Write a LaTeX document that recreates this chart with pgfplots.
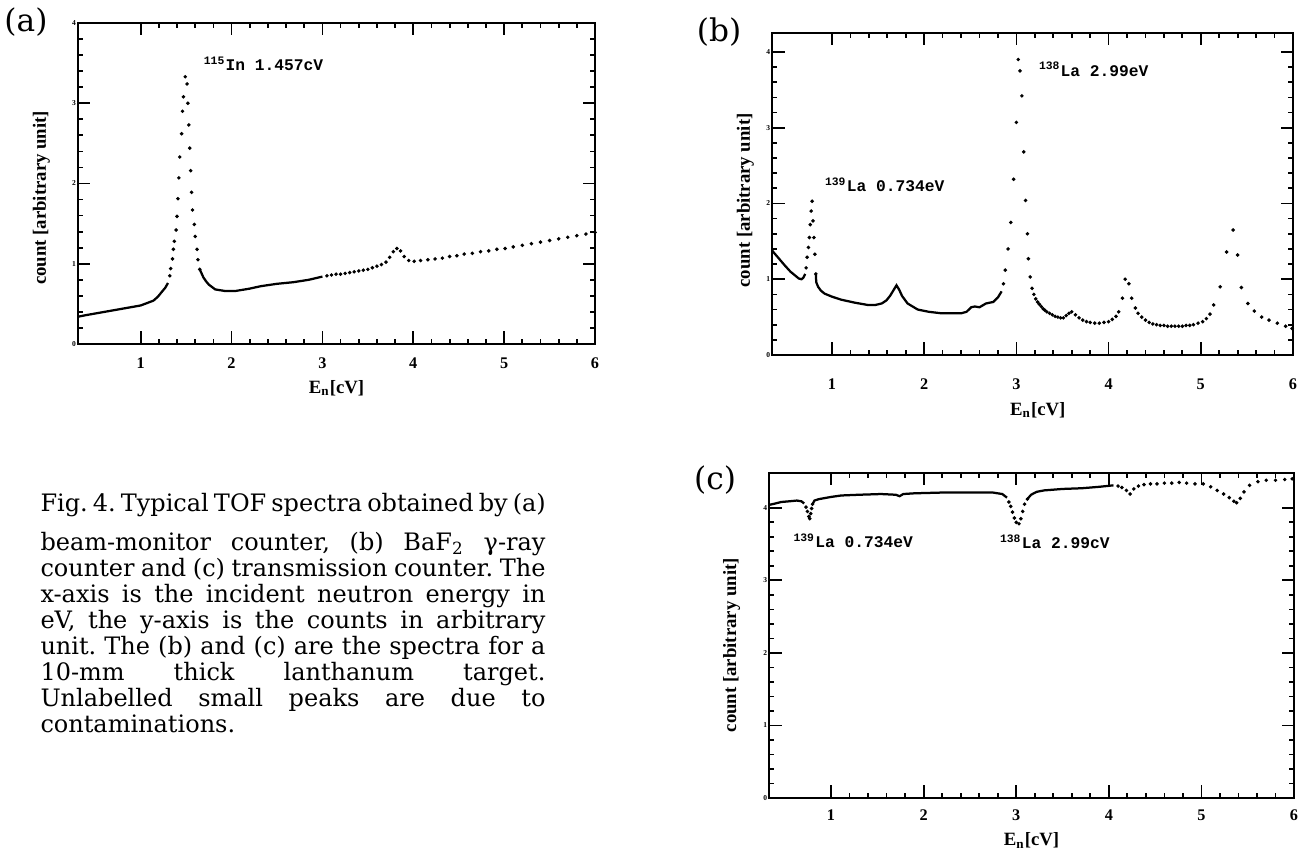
\documentclass[border=0pt]{standalone}
\usepackage{fontspec}
\setmainfont{Liberation Serif}
\newfontfamily\capfont{DejaVu Serif}
\newfontfamily\annfont{Liberation Mono}
\usepackage{pgfplots}
\pgfplotsset{compat=1.18}
\frenchspacing

% common look of the three scanned panels
\pgfplotsset{
  spec/.style={
    scale only axis,
    anchor=south west,
    axis line style={line width=0.8pt},
    tick style={line width=0.7pt, black},
    major tick length=5pt,
    minor tick length=2pt,
    tick align=inside,
    xtick={1,2,3,4,5,6},
    ytick={0,1,2,3,4},
    minor x tick num=4,
    minor y tick num=4,
    xmax=6, ymin=0,
    /pgf/number format/assume math mode=true,
    xticklabel style={font=\fontsize{6.5}{7}\selectfont\bfseries},
    yticklabel style={font=\fontsize{3}{3}\selectfont\bfseries, inner sep=0.6pt},
    xlabel={E\textsubscript{n}[cV]},
    ylabel={count [arbitrary unit]},
    label style={font=\fontsize{7.5}{8}\selectfont\bfseries},
    xlabel style={anchor=center},
    ylabel style={anchor=center},
  },
  curve/.style={black, line width=0.9pt, no marks},
  pts/.style={black, only marks, mark=*, mark size=0.5pt},
}

\begin{document}
\begin{tikzpicture}
\path[use as bounding box] (0,0) rectangle (519.2pt,339.6pt);

% ---------------- (a) beam monitor
\begin{axis}[spec, at={(31.2pt,202pt)}, width=206.8pt, height=128.4pt,
  xmin=0.31, ymax=4,
  xticklabel style={yshift=-2pt},
  xlabel style={at={(axis description cs:0.5,-0.137)}},
  ylabel style={at={(axis description cs:-0.0706,0.455)}}]
\addplot[curve] coordinates {(0.31,0.34) (0.40,0.36) (0.50,0.38) (0.60,0.40) (0.70,0.42) (0.80,0.44) (0.90,0.46) (1.00,0.48) (1.07,0.51) (1.14,0.54) (1.19,0.59) (1.24,0.66) (1.27,0.70) (1.30,0.76)};
\addplot[pts] coordinates {(1.32,0.85) (1.33,0.94) (1.35,1.06) (1.36,1.18) (1.37,1.28) (1.39,1.42) (1.40,1.59) (1.41,1.81) (1.42,2.07) (1.43,2.33) (1.45,2.62) (1.46,2.90) (1.47,3.08) (1.49,3.33) (1.51,3.24) (1.52,3.00) (1.53,2.73) (1.54,2.44) (1.55,2.16) (1.56,1.89) (1.57,1.67) (1.59,1.49) (1.60,1.34) (1.62,1.18) (1.63,1.05) (1.65,0.93)};
\addplot[curve] coordinates {(1.65,0.93) (1.69,0.83) (1.72,0.78) (1.75,0.74) (1.82,0.68) (1.93,0.66) (2.04,0.66) (2.20,0.69) (2.32,0.72) (2.50,0.75) (2.68,0.77) (2.85,0.80) (3.00,0.84)};
\addplot[pts] coordinates {(3.05,0.85) (3.10,0.86) (3.15,0.87) (3.20,0.87) (3.25,0.88) (3.30,0.89) (3.35,0.90) (3.40,0.91) (3.45,0.92) (3.50,0.93) (3.55,0.95) (3.60,0.97) (3.65,0.99) (3.70,1.02) (3.74,1.08) (3.78,1.15) (3.82,1.19) (3.86,1.16) (3.90,1.09) (3.95,1.04) (4.01,1.03) (4.08,1.04) (4.16,1.05) (4.24,1.06) (4.32,1.07) (4.40,1.09) (4.48,1.10) (4.56,1.12) (4.65,1.13) (4.74,1.15) (4.83,1.16) (4.92,1.18) (5.01,1.19) (5.10,1.21) (5.20,1.23) (5.30,1.25) (5.40,1.27) (5.50,1.29) (5.60,1.31) (5.70,1.33) (5.80,1.35) (5.90,1.37) (6.00,1.39)};
\node[anchor=west, font=\annfont\fontsize{6.5}{7}\selectfont\bfseries, inner sep=0] at (axis cs:1.69,3.49) {\textsuperscript{115}In 1.457cV};
\end{axis}

% ---------------- (b) BaF2 gamma-ray counter
\begin{axis}[spec, at={(308.8pt,197.6pt)}, width=208.4pt, height=128.8pt,
  xmin=0.35, ymax=4.25,
  xticklabel style={yshift=-6pt},
  xlabel style={at={(axis description cs:0.51,-0.171)}},
  ylabel style={at={(axis description cs:-0.051,0.48)}}]
\addplot[curve] coordinates {(0.35,1.38) (0.42,1.28) (0.49,1.18) (0.55,1.10) (0.60,1.05) (0.64,1.01) (0.67,1.00) (0.69,1.02) (0.71,1.07)};
\addplot[pts] coordinates {(0.72,1.15) (0.73,1.29) (0.745,1.42) (0.755,1.55) (0.765,1.72) (0.775,1.90) (0.785,2.03) (0.795,1.77) (0.805,1.55) (0.815,1.33) (0.825,1.07)};
\addplot[curve] coordinates {(0.825,1.07) (0.83,0.96) (0.85,0.90) (0.88,0.85) (0.92,0.81) (1.00,0.77) (1.10,0.73) (1.25,0.69) (1.39,0.66) (1.47,0.66) (1.54,0.68) (1.59,0.72) (1.63,0.78) (1.67,0.86) (1.70,0.92) (1.73,0.86) (1.76,0.78) (1.82,0.68) (1.93,0.60) (2.05,0.57) (2.19,0.55) (2.40,0.55) (2.46,0.57) (2.51,0.63) (2.55,0.64) (2.60,0.63) (2.67,0.68) (2.75,0.70) (2.80,0.76) (2.84,0.84)};
\addplot[pts] coordinates {(2.86,0.94) (2.88,1.12) (2.91,1.40) (2.94,1.75) (2.97,2.32) (3.00,3.07) (3.02,3.90) (3.04,3.75) (3.06,3.42) (3.08,2.68) (3.10,2.04) (3.12,1.60) (3.13,1.27) (3.15,1.03) (3.17,0.88) (3.19,0.80) (3.21,0.74) (3.23,0.70) (3.25,0.67) (3.27,0.64) (3.29,0.61) (3.31,0.59) (3.33,0.57) (3.36,0.55) (3.39,0.53) (3.42,0.51) (3.45,0.50) (3.48,0.49) (3.51,0.49) (3.54,0.52) (3.57,0.55) (3.60,0.57) (3.64,0.53) (3.68,0.49) (3.72,0.46) (3.76,0.44) (3.80,0.43) (3.85,0.42) (3.90,0.42) (3.95,0.43) (4.00,0.44) (4.04,0.47) (4.08,0.51) (4.11,0.57) (4.15,0.75) (4.18,1.00) (4.22,0.94) (4.25,0.75) (4.29,0.62) (4.32,0.55) (4.36,0.50) (4.40,0.46) (4.44,0.43) (4.48,0.41) (4.52,0.40) (4.56,0.39) (4.60,0.39) (4.64,0.38) (4.68,0.38) (4.72,0.38) (4.76,0.38) (4.80,0.38) (4.84,0.39) (4.88,0.39) (4.92,0.40) (4.97,0.42) (5.02,0.44) (5.06,0.48) (5.10,0.54) (5.14,0.66) (5.21,0.90) (5.28,1.36) (5.35,1.65) (5.40,1.32) (5.44,0.89) (5.51,0.68) (5.58,0.58) (5.66,0.50) (5.74,0.46) (5.83,0.42) (5.92,0.38) (5.99,0.35)};
\node[anchor=west, font=\annfont\fontsize{6.5}{7}\selectfont\bfseries, inner sep=0] at (axis cs:0.92,2.25) {\textsuperscript{139}La 0.734eV};
\node[anchor=west, font=\annfont\fontsize{6.5}{7}\selectfont\bfseries, inner sep=0] at (axis cs:3.24,3.77) {\textsuperscript{138}La 2.99eV};
\end{axis}

% ---------------- (c) transmission counter
\begin{axis}[spec, at={(307.6pt,20.4pt)}, width=210pt, height=130pt,
  xmin=0.33, ymax=4.48,
  xticklabel style={yshift=-1.2pt},
  xlabel style={at={(axis description cs:0.5,-0.13)}},
  ylabel style={at={(axis description cs:-0.071,0.47)}}]
\addplot[curve] coordinates {(0.33,4.04) (0.40,4.06) (0.46,4.08) (0.55,4.09) (0.63,4.10) (0.68,4.09) (0.71,4.06)};
\addplot[pts] coordinates {(0.73,4.01) (0.745,3.95) (0.76,3.88) (0.77,3.85) (0.78,3.92) (0.79,3.99) (0.80,4.05)};
\addplot[curve] coordinates {(0.80,4.05) (0.82,4.10) (0.87,4.12) (1.00,4.15) (1.11,4.17) (1.30,4.18) (1.54,4.19) (1.70,4.18) (1.74,4.16) (1.78,4.19) (1.90,4.20) (2.19,4.21) (2.50,4.21) (2.75,4.21) (2.85,4.19) (2.90,4.14)};
\addplot[pts] coordinates {(2.92,4.08) (2.94,4.02) (2.96,3.94) (2.98,3.86) (3.00,3.80) (3.03,3.78) (3.05,3.85) (3.07,3.95) (3.09,4.05) (3.12,4.12)};
\addplot[curve] coordinates {(3.12,4.12) (3.16,4.18) (3.22,4.22) (3.30,4.24) (3.50,4.26) (3.71,4.27) (3.90,4.29) (4.05,4.31)};
\addplot[pts] coordinates {(4.10,4.30) (4.14,4.28) (4.19,4.24) (4.23,4.19) (4.27,4.26) (4.32,4.30) (4.38,4.32) (4.45,4.33) (4.52,4.33) (4.60,4.34) (4.68,4.34) (4.76,4.35) (4.84,4.34) (4.93,4.33) (5.02,4.33) (5.10,4.29) (5.17,4.24) (5.24,4.19) (5.30,4.14) (5.35,4.09) (5.38,4.07) (5.42,4.13) (5.46,4.22) (5.52,4.31) (5.61,4.36) (5.70,4.38) (5.80,4.38) (5.90,4.39) (5.98,4.40)};
\node[anchor=west, font=\annfont\fontsize{6.5}{7}\selectfont\bfseries, inner sep=0] at (axis cs:0.59,3.55) {\textsuperscript{139}La 0.734eV};
\node[anchor=west, font=\annfont\fontsize{6.5}{7}\selectfont\bfseries, inner sep=0] at (axis cs:2.82,3.53) {\textsuperscript{138}La 2.99cV};
\end{axis}

% panel letters
\node[font=\capfont\fontsize{12.5}{14}\selectfont] at (10.4pt,330.8pt) {(a)};
\node[font=\capfont\fontsize{12.5}{14}\selectfont] at (287.6pt,326.8pt) {(b)};
\node[font=\capfont\fontsize{12.5}{14}\selectfont] at (286pt,147.6pt) {(c)};

% caption
\begin{scope}[every node/.style={anchor=base west, inner sep=0, font=\capfont\fontsize{9.6}{10}\selectfont}]
\node at (16pt,134.8pt) {\makebox[202pt][s]{Fig. 4. Typical TOF spectra obtained by (a)}};
\node at (16pt,119.2pt) {\makebox[202pt][s]{beam-monitor counter, (b) BaF\textsubscript{2} γ-ray}};
\node at (16pt,108.8pt) {\makebox[202pt][s]{counter and (c) transmission counter. The}};
\node at (16pt,98.4pt) {\makebox[202pt][s]{x-axis is the incident neutron energy in}};
\node at (16pt,88.0pt) {\makebox[202pt][s]{eV, the y-axis is the counts in arbitrary}};
\node at (16pt,77.6pt) {\makebox[202pt][s]{unit. The (b) and (c) are the spectra for a}};
\node at (16pt,67.2pt) {\makebox[202pt][s]{10-mm thick lanthanum target.}};
\node at (16pt,56.8pt) {\makebox[202pt][s]{Unlabelled small peaks are due to}};
\node at (16pt,46.4pt) {contaminations.};
\end{scope}
\end{tikzpicture}
\end{document}
